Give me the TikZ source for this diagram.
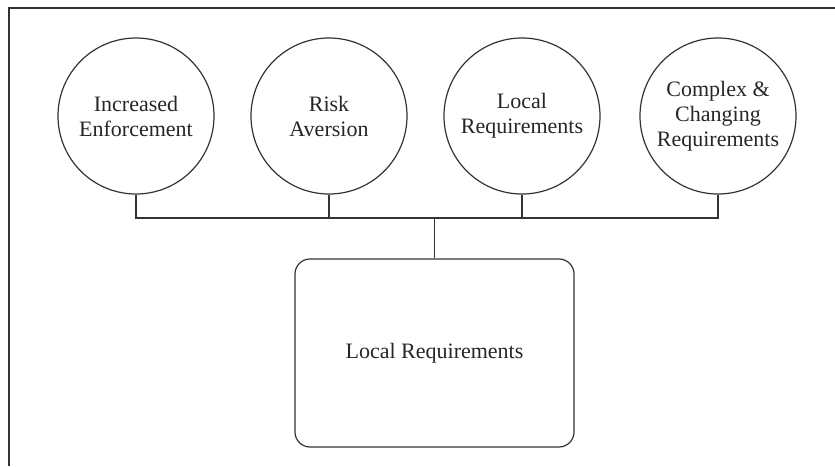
\documentclass[tikz,border=0pt]{standalone}
\usepackage{fontspec}
\setmainfont{Liberation Serif}
\begin{document}
\begin{tikzpicture}[x=1pt,y=-1pt,
  ln/.style={draw=black!80,line width=1.2pt},
  driver/.style={ln,circle,minimum size=156pt,inner sep=0pt,align=center,
    font=\fontsize{22}{25}\selectfont,text=black!85},
  result/.style={ln,rounded corners=15pt,minimum width=279pt,minimum height=188pt,
    inner sep=0pt,font=\fontsize{22}{25}\selectfont,text=black!85}]
\useasboundingbox (0,0) rectangle (835,466);
\draw[ln] (9,466) -- (9,8) -- (835,8);
\node[driver] (c1) at (136,116) {Increased\\Enforcement};
\node[driver] (c2) at (329,116) {Risk\\Aversion};
\node[driver] (c3) at (522,116) {Local\\Requirements};
\node[driver] (c4) at (718,116) {Complex \&\\Changing\\Requirements};
\node[result] (box) at (434.5,353) {Local Requirements};
\coordinate (bus) at (434.5,218);
\draw[ln] (c1.south) -- (c1.south |- bus) -- (c4.south |- bus) -- (c4.south);
\draw[ln] (c2.south) -- (c2.south |- bus);
\draw[ln] (c3.south) -- (c3.south |- bus);
\draw[ln] (bus) -- (box.north);
\end{tikzpicture}
\end{document}
